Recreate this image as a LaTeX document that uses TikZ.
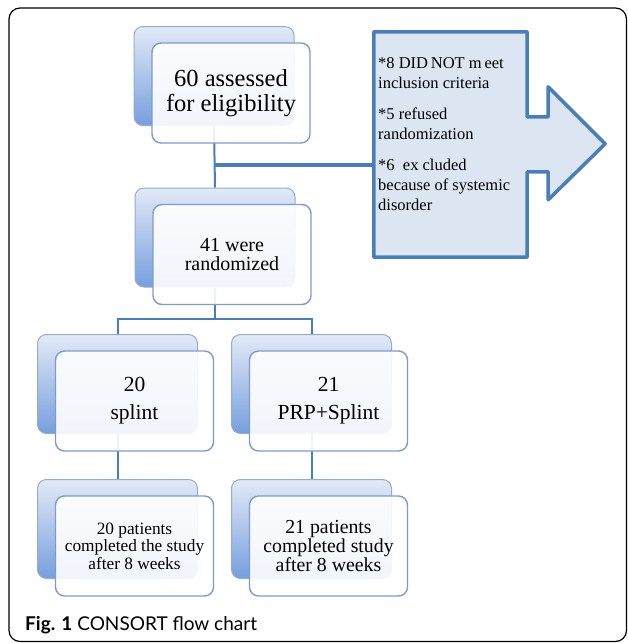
\documentclass[tikz,border=0pt]{standalone}
\usepackage{fontspec}
\setmainfont{Liberation Serif}
\newfontfamily\capfont{Lato}
\usetikzlibrary{calc}
\definecolor{conn}{RGB}{74,126,187}
\definecolor{callfill}{RGB}{220,230,242}
\definecolor{frontdraw}{RGB}{126,156,200}
\definecolor{backdraw}{RGB}{150,172,205}
\definecolor{backtop}{RGB}{226,234,247}
\definecolor{backbot}{RGB}{118,158,222}
\tikzset{
  backbox/.style={draw=backdraw, line width=1pt, rounded corners=9pt,
    top color=backtop, bottom color=backbot,
    minimum width=160pt, minimum height=99pt, inner sep=0pt},
  frontbox/.style={draw=frontdraw, line width=1.4pt, rounded corners=9pt,
    fill=white, fill opacity=0.9, text opacity=1, text=black,
    minimum width=158pt, minimum height=100pt, align=center, inner sep=0pt},
  connline/.style={draw=conn, line width=2pt},
  connthick/.style={draw=conn, line width=3.5pt},
  calloutline/.style={draw=conn, line width=3.5pt, fill=callfill, line join=round},
}
\begin{document}
\begin{tikzpicture}[x=1pt,y=-1pt]
\useasboundingbox (0,0) rectangle (627,643);
\fill[white] (0,0) rectangle (627,643);
\draw[line width=1.2pt, rounded corners=11pt] (9,8) rectangle (626.5,641.5);

% back boxes
\node[backbox] (b1) at (214,76) {};
\node[backbox] (b2) at (215,237.5) {};
\node[backbox] (b3) at (117.5,384) {};
\node[backbox] (b4) at (311.5,384) {};
\node[backbox] (b5) at (117.5,529) {};
\node[backbox] (b6) at (311.5,529) {};

% exclusion callout
\node[minimum width=153pt, minimum height=225pt, inner sep=0pt] (ex) at (450.5,144.5) {};
\draw[calloutline] (ex.north west) -- (ex.north east) -- ++(0,85) -- ++(21,0)
  -- ++(0,-30) -- ++(57,57) -- ++(-57,56) -- ++(0,-28) -- ++(-21,0)
  -- (ex.south east) -- (ex.south west) -- cycle;
\node[anchor=north west, align=left, inner sep=0pt,
  font=\fontsize{16.5}{20}\selectfont] (extext) at (378,57)
  {*8 DID\,NOT m\,eet\\ inclusion criteria\\[11pt]
   *5 refused\\ randomization\\[11pt]
   *6 \ ex cluded\\ because of systemic\\ disorder};

% connectors
\coordinate (j) at (b1.south |- 0,165);
\coordinate (bus) at (b2.south |- 0,319);
\draw[connline] (b1.south) -- (b2.north);
\draw[connthick] (j) -- (j -| ex.west);
\draw[connline] (b2.south) -- (bus);
\draw[connline] (b3.north) |- (bus) -| (b4.north);
\draw[connline] (b3.south) -- (b5.north);
\draw[connline] (b4.south) -- (b6.north);

% front boxes
\node[frontbox, font=\fontsize{24.5}{25}\selectfont] (f1) at ($(b1)+(17,17)$)
  {60 assessed\\for eligibility};
\node[frontbox, font=\fontsize{20}{19.5}\selectfont] (f2) at ($(b2)+(17,17)$)
  {41 were\\randomized};
\node[frontbox, font=\fontsize{21.5}{21}\selectfont] (f3) at ($(b3)+(17,17)$)
  {20\\[7pt]splint};
\node[frontbox, font=\fontsize{21.5}{21}\selectfont] (f4) at ($(b4)+(17,17)$)
  {21\\[7pt]PRP+Splint};
\node[frontbox, font=\fontsize{17.3}{17.5}\selectfont] (f5) at ($(b5)+(17,17)$)
  {20 patients\\completed the study\\after 8 weeks};
\node[frontbox, font=\fontsize{19.8}{19}\selectfont] (f6) at ($(b6)+(17,17)$)
  {21 patients\\completed study\\after 8 weeks};

% caption
\node[anchor=base west, inner sep=0pt, font=\capfont\fontsize{19}{22}\selectfont] (cap)
  at (25,630) {\textbf{Fig. 1} CONSORT flow chart};
\end{tikzpicture}
\end{document}
